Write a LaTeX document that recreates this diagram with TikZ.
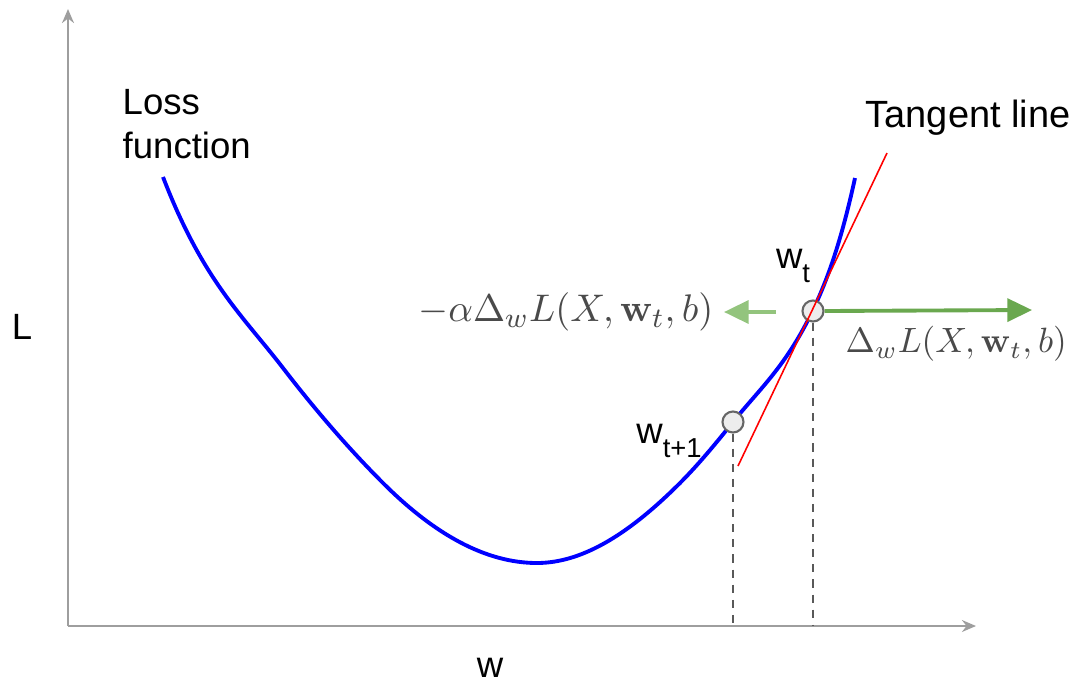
\documentclass[tikz,border=0pt]{standalone}
\usepackage[no-math]{fontspec}
\setmainfont{Liberation Sans}
\usetikzlibrary{arrows.meta}
\definecolor{axisgray}{HTML}{9E9E9E}
\definecolor{stepgreen}{HTML}{93C47D}
\definecolor{gradgreen}{HTML}{6AA84F}
\definecolor{mathgray}{HTML}{4A4A4A}
\newcommand{\lowsub}[1]{\raisebox{-0.36em}{\fontsize{7.8}{9}\selectfont #1}}

\begin{document}
\begin{tikzpicture}[
        axisline/.style={
            draw=axisgray,
            line width=0.6pt,
            -{Stealth[length=4pt,width=3.4pt]}
        },
        wordlabel/.style={
            font=\fontsize{10.4}{12.5}\selectfont,
            inner sep=0pt
        },
        formula/.style={
            font=\fontsize{11}{13}\selectfont,
            text=mathgray,
            inner sep=0pt
        },
        weight/.style={
            circle,
            draw=black!60,
            fill=black!7,
            line width=0.6pt,
            inner sep=0pt,
            minimum size=0.21cm
        },
        dropline/.style={
            draw=black!65,
            line width=0.5pt,
            dash pattern=on 2.3pt off 2pt
        },
        gradarrow/.style={
            line width=1.1pt,
            -{Triangle[length=7pt,width=6.5pt]}
        }
    ]
        \useasboundingbox (0,0) rectangle (10.71,6.83);

        \coordinate (origin) at (0.68,0.57);
        \coordinate (ytip) at (0.68,6.74);
        \coordinate (xtip) at (9.76,0.57);
        \draw[axisline] (origin) -- (ytip);
        \draw[axisline] (origin) -- (xtip);

        \node[wordlabel] (ylabel) at (0.22,3.56) {L};
        \node[wordlabel] (xlabel) at (4.90,0.15) {w};
        \node[wordlabel, align=left, anchor=north west] (loss) at (1.22,5.94)
            {Loss\\function};
        \node[wordlabel, anchor=west, font=\fontsize{10.8}{13}\selectfont] (tangent) at (8.65,5.65)
            {Tangent line};

        \draw[blue, line width=1.1pt] (1.63,5.06)
            .. controls (2.03,4.02) and (2.43,3.67) .. (2.83,3.15)
            .. controls (3.163,2.717) and (3.497,2.333) .. (3.83,2.00)
            .. controls (4.343,1.487) and (4.857,1.20) .. (5.37,1.20)
            .. controls (5.847,1.20) and (6.323,1.523) .. (6.80,2.00)
            .. controls (6.977,2.177) and (7.153,2.389) .. (7.33,2.61)
            .. controls (7.597,2.943) and (7.863,3.17) .. (8.13,3.73)
            .. controls (8.27,4.024) and (8.41,4.406) .. (8.55,5.05);

        \node[weight] (wt) at (8.13,3.72) {};
        \node[weight] (wtnext) at (7.33,2.61) {};

        \coordinate (tanlow) at (7.38,2.17);
        \coordinate (tanhigh) at (8.87,5.30);
        \draw[red, line width=0.45pt] (tanlow) -- (tanhigh);

        \draw[dropline] (wt.south) -- (wt.south |- origin);
        \draw[dropline] (wtnext.south) -- (wtnext.south |- origin);

        \node[wordlabel] (wtlabel) at (7.93,4.17) {w\lowsub{t}};
        \node[wordlabel] (wtnextlabel) at (6.69,2.42) {w\lowsub{t+1}};

        \coordinate (gradtip) at (10.32,3.73);
        \draw[gradarrow, gradgreen] (wt.east) -- (gradtip);
        \coordinate (steptail) at (7.76,3.71);
        \coordinate (steptip) at (7.24,3.71);
        \draw[gradarrow, stepgreen] (steptail) -- (steptip);

        \node[formula, anchor=east] (neggrad) at (7.14,3.71)
            {$-\alpha\Delta_w L(X,\mathbf{w}_t,b)$};
        \node[formula, anchor=west, font=\fontsize{10.1}{12}\selectfont] (grad) at (8.45,3.39)
            {$\Delta_w L(X,\mathbf{w}_t,b)$};
    \end{tikzpicture}
\end{document}
